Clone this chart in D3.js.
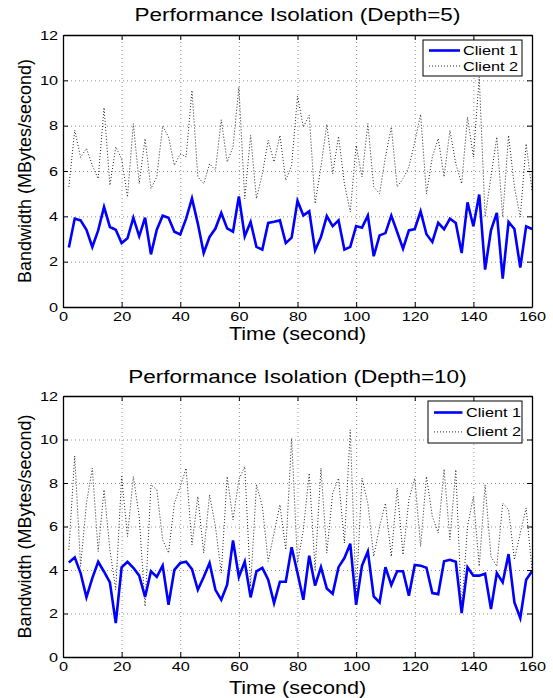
<!DOCTYPE html>
<html>
  <head>
    <style>
      body { margin: 0; background: #fff; }
      text { font-family: "Liberation Sans", Arial, sans-serif; fill: #000; }
    </style>
  </head>
  <body>
    <svg id="svg" width="553" height="698"></svg>

    <script src="https://cdn.jsdelivr.net/npm/d3@7"></script>
    <script>
      const times = [
        2, 4, 6, 8, 10, 12, 14, 16, 18, 20, 22, 24, 26, 28, 30, 32, 34, 36, 38, 40,
        42, 44, 46, 48, 50, 52, 54, 56, 58, 60, 62, 64, 66, 68, 70, 72, 74, 76, 78, 80,
        82, 84, 86, 88, 90, 92, 94, 96, 98, 100, 102, 104, 106, 108, 110, 112, 114, 116, 118, 120,
        122, 124, 126, 128, 130, 132, 134, 136, 138, 140, 142, 144, 146, 148, 150, 152, 154, 156, 158, 160
      ];

      // Depth=5
      const depth5Client1 = [
        2.62, 3.9, 3.82, 3.41, 2.65, 3.38, 4.41, 3.53, 3.41, 2.82,
        3.03, 3.94, 3.12, 3.94, 2.32, 3.41, 4.03, 3.94, 3.32, 3.2,
        3.9, 4.79, 3.68, 2.38, 3.09, 3.46, 4.15, 3.47, 3.32, 4.88,
        3.12, 3.75, 2.65, 2.53, 3.71, 3.76, 3.82, 2.82, 3.06, 4.68,
        4.04, 4.22, 2.5, 3.09, 4.01, 3.57, 3.82, 2.53, 2.65, 3.57,
        3.5, 4.03, 2.24, 3.16, 3.26, 4.03, 3.31, 2.57, 3.38, 3.44,
        4.22, 3.21, 2.87, 3.71, 3.43, 3.9, 3.71, 2.38, 4.62, 3.56,
        4.96, 1.65, 3.38, 4.15, 1.25, 3.75, 3.44, 1.74, 3.56, 3.44
      ];
      const depth5Client2 = [
        5.3, 7.8, 6.6, 7.0, 6.25, 5.66, 8.8, 5.37, 7.06, 6.54,
        4.85, 8.09, 5.44, 7.43, 5.22, 5.74, 7.99, 7.5, 6.25, 6.76,
        6.62, 9.56, 5.74, 5.44, 6.32, 6.03, 8.26, 6.4, 7.06, 9.7,
        4.78, 7.57, 4.78, 5.88, 7.35, 6.4, 7.57, 5.59, 6.25, 9.3,
        7.94, 8.46, 4.56, 6.18, 8.06, 5.88, 7.53, 5.44, 4.19, 7.13,
        5.74, 8.09, 5.3, 5.0, 6.62, 7.94, 5.3, 5.66, 6.18, 7.28,
        8.5, 5.0, 6.62, 7.43, 5.74, 7.79, 6.32, 5.44, 8.38, 6.62,
        10.15, 3.97, 5.74, 7.5, 3.97, 7.57, 5.3, 3.97, 7.2, 5.15
      ];

      // Depth=10
      const depth10Client1 = [
        4.35, 4.58, 3.86, 2.74, 3.63, 4.38, 3.92, 3.43, 1.56, 4.12,
        4.38, 4.1, 3.74, 2.76, 3.94, 3.68, 4.2, 2.4, 4.01, 4.32,
        4.38, 4.04, 3.09, 3.68, 4.32, 3.09, 2.63, 3.32, 5.36, 3.68,
        4.38, 2.74, 3.94, 4.1, 3.55, 2.48, 3.46, 3.46, 5.05, 3.86,
        2.63, 4.66, 3.28, 4.13, 3.15, 2.91, 4.13, 4.55, 5.21, 2.4,
        4.2, 4.85, 2.79, 2.51, 4.13, 3.31, 3.94, 3.94, 2.82, 4.23,
        4.2, 4.1, 2.94, 2.89, 4.4, 4.47, 4.38, 2.02, 4.13, 3.74,
        3.74, 3.83, 2.2, 3.86, 3.43, 4.73, 2.51, 1.79, 3.55, 3.94
      ];
      const depth10Client2 = [
        4.93, 9.25, 4.17, 7.07, 8.68, 4.85, 7.69, 4.93, 3.09, 8.3,
        5.54, 8.3, 6.46, 2.33, 7.92, 7.69, 5.39, 4.78, 7.07, 7.84,
        8.68, 5.16, 7.38, 4.78, 7.46, 6.0, 3.86, 8.3, 6.31, 8.15,
        8.76, 3.25, 7.92, 6.92, 4.4, 5.7, 7.0, 4.93, 10.06, 4.32,
        5.85, 8.45, 4.01, 8.68, 4.78, 7.53, 8.22, 5.24, 10.44, 2.79,
        8.22, 7.07, 4.62, 6.0, 7.07, 4.62, 7.76, 4.7, 7.23, 8.22,
        5.08, 8.3, 6.46, 5.7, 8.64, 5.39, 8.61, 2.17, 6.0, 7.38,
        4.17, 7.92, 4.62, 4.17, 7.07, 6.77, 4.47, 5.7, 6.85, 4.01
      ];

      const xTicks = [0, 20, 40, 60, 80, 100, 120, 140, 160];
      const yTicks = [0, 2, 4, 6, 8, 10, 12];
      const seriesNames = ['Client 1', 'Client 2'];

      const svg = d3.select('#svg');
      const left = 63;
      const right = 532;
      const stretch = 1.25; // the picture text is wider than the font

      const widen = (sel, k = stretch) => {
        sel.each(function () {
          const len = this.getComputedTextLength();
          d3.select(this)
            .attr('textLength', len * k)
            .attr('lengthAdjust', 'spacingAndGlyphs');
        });
      };

      const drawPlot = (opt) => {
        const { top, bottom, title, titleY, xLabelY, c1, c2, legend } = opt;
        const xScale = d3.scaleLinear().domain([0, 160]).range([left, right]);
        const yScale = d3.scaleLinear().domain([0, 12]).range([bottom, top]);
        const g = svg.append('g');

        // grid
        g.append('g')
          .attr('transform', `translate(0, ${bottom})`)
          .call(d3.axisBottom(xScale).tickValues(xTicks).tickSize(-(bottom - top)).tickFormat(''))
          .call((a) => a.select('.domain').remove())
          .selectAll('line')
          .attr('stroke', '#777')
          .attr('stroke-width', 0.8)
          .attr('stroke-dasharray', '1,3');
        g.append('g')
          .attr('transform', `translate(${left}, 0)`)
          .call(d3.axisLeft(yScale).tickValues(yTicks).tickSize(-(right - left)).tickFormat(''))
          .call((a) => a.select('.domain').remove())
          .selectAll('line')
          .attr('stroke', '#777')
          .attr('stroke-width', 0.8)
          .attr('stroke-dasharray', '1,3');

        const linegen = d3
          .line()
          .x((d, i) => xScale(times[i]))
          .y((d) => yScale(d));

        g.append('path')
          .attr('d', linegen(c2))
          .attr('fill', 'none')
          .attr('stroke', '#222')
          .attr('stroke-width', 1)
          .attr('stroke-dasharray', '1,2');
        g.append('path')
          .attr('d', linegen(c1))
          .attr('fill', 'none')
          .attr('stroke', '#0000ff')
          .attr('stroke-width', 2.6)
          .attr('stroke-linejoin', 'miter');

        // axes (box with inward ticks)
        const bottomAxis = g.append('g')
          .attr('transform', `translate(0, ${bottom})`)
          .call(d3.axisBottom(xScale).tickValues(xTicks).tickSizeInner(-5).tickSizeOuter(0).tickPadding(5));
        bottomAxis.selectAll('text').attr('font-size', 13).call(widen);
        g.append('g')
          .attr('transform', `translate(0, ${top})`)
          .call(d3.axisTop(xScale).tickValues(xTicks).tickSizeInner(-5).tickSizeOuter(0).tickFormat(''));
        const leftAxis = g.append('g')
          .attr('transform', `translate(${left}, 0)`)
          .call(d3.axisLeft(yScale).tickValues(yTicks).tickSizeInner(-5).tickSizeOuter(0).tickPadding(5));
        leftAxis.selectAll('text').attr('font-size', 13).call(widen);
        g.append('g')
          .attr('transform', `translate(${right}, 0)`)
          .call(d3.axisRight(yScale).tickValues(yTicks).tickSizeInner(-5).tickSizeOuter(0).tickFormat(''));
        g.selectAll('.domain').attr('stroke', '#000').attr('stroke-width', 1.3);
        g.selectAll('.tick line').filter(function () {
          return d3.select(this).attr('stroke-dasharray') === null;
        }).attr('stroke', '#000');
        g.selectAll('text').attr('font-family', '"Liberation Sans", Arial, sans-serif');

        // title and labels
        g.append('text')
          .attr('x', (left + right) / 2)
          .attr('y', titleY)
          .attr('text-anchor', 'middle')
          .attr('font-size', 18)
          .text(title)
          .call(widen);
        g.append('text')
          .attr('x', (left + right) / 2)
          .attr('y', xLabelY)
          .attr('text-anchor', 'middle')
          .attr('font-size', 18)
          .text('Time (second)')
          .call(widen, 1.2);
        g.append('text')
          .attr('transform', `translate(31, ${(top + bottom) / 2}) rotate(-90)`)
          .attr('text-anchor', 'middle')
          .attr('font-size', 18)
          .text('Bandwidth (MBytes/second)');

        // legend
        const lg = g.append('g');
        lg.append('rect')
          .attr('x', legend.x)
          .attr('y', legend.y)
          .attr('width', legend.w)
          .attr('height', legend.h)
          .attr('fill', '#fff')
          .attr('stroke', '#000')
          .attr('stroke-width', 1);
        seriesNames.forEach((name, i) => {
          const yy = legend.y + legend.row0 + i * legend.step;
          lg.append('line')
            .attr('x1', legend.x + legend.lx0)
            .attr('x2', legend.x + legend.lx1)
            .attr('y1', yy)
            .attr('y2', yy)
            .attr('stroke', i === 0 ? '#0000ff' : '#222')
            .attr('stroke-width', i === 0 ? 2.6 : 1)
            .attr('stroke-dasharray', i === 0 ? null : '1,2');
          lg.append('text')
            .attr('x', legend.x + legend.tx)
            .attr('y', yy)
            .attr('dy', '0.35em')
            .attr('font-size', 13)
            .text(name)
            .call(widen);
        });
      };

      drawPlot({
        top: 35,
        bottom: 307,
        title: 'Performance Isolation (Depth=5)',
        titleY: 21,
        xLabelY: 340,
        c1: depth5Client1,
        c2: depth5Client2,
        legend: { x: 423, y: 40, w: 99, h: 36, row0: 10.5, step: 15.5, lx0: 6, lx1: 37, tx: 40 }
      });

      drawPlot({
        top: 396,
        bottom: 657,
        title: 'Performance Isolation (Depth=10)',
        titleY: 383,
        xLabelY: 694,
        c1: depth10Client1,
        c2: depth10Client2,
        legend: { x: 428, y: 401, w: 94, h: 42, row0: 11.5, step: 19.4, lx0: 6, lx1: 34.5, tx: 38 }
      });
    </script>
  </body>
</html>
